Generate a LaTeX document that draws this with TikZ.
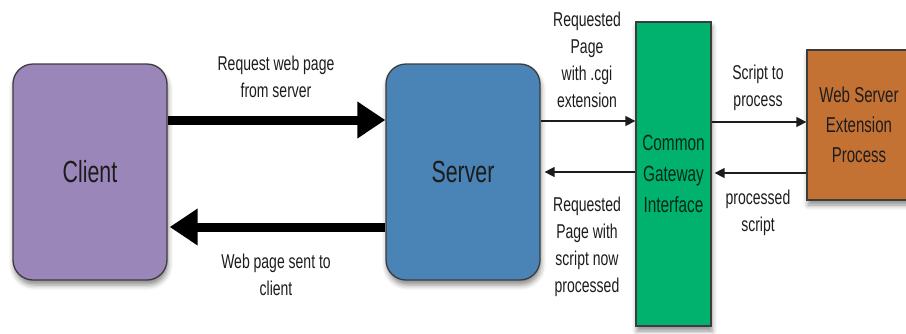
\documentclass[tikz,border=0pt]{standalone}
\usepackage{fontspec}
\newfontfamily\nf[FakeStretch=0.7]{Liberation Sans}
\usetikzlibrary{arrows.meta,shadows.blur}
\definecolor{cpurple}{RGB}{155,134,186}
\definecolor{cblue}{RGB}{74,131,182}
\definecolor{cgreen}{RGB}{0,178,110}
\definecolor{corange}{RGB}{196,114,52}
\definecolor{cborder}{RGB}{60,60,60}
\definecolor{ctext}{RGB}{28,28,28}
\definecolor{cgtext}{RGB}{0,40,24}
\tikzset{
  boxshape/.style={draw=cborder, line width=1.3pt, inner sep=0pt,
    blur shadow={shadow xshift=1pt, shadow yshift=-5pt, shadow blur radius=5pt, shadow opacity=45}},
  bigbox/.style={boxshape, rounded corners=20pt, minimum width=154pt, minimum height=216pt,
    text=ctext, font=\nf\fontsize{30.5}{34}\selectfont},
  lbl/.style={align=center, text=ctext, inner sep=0pt, font=\nf\fontsize{20}{27}\selectfont},
  thick arrow/.style={line width=9pt, -{Triangle[length=28pt,width=35pt]}},
  thin arrow/.style={line width=1.5pt, draw=ctext, -{Triangle[length=10pt,width=10pt]}}
}
\begin{document}
\begin{tikzpicture}[x=1pt,y=-1pt]
\useasboundingbox (0,0) rectangle (906,333);
\node[bigbox, fill=cpurple] (client) at (90,172) {Client};
\node[bigbox, fill=cblue] (server) at (463,172) {Server};
\node[boxshape, fill=cgreen, minimum width=75pt, minimum height=304pt, align=center,
  text=cgtext, font=\nf\fontsize{22}{31}\selectfont] (cgi) at (673.5,174) {Common\\Gateway\\Interface};
\node[boxshape, fill=corange, minimum width=104pt, minimum height=150pt, align=center,
  text=ctext, font=\nf\fontsize{21.5}{30}\selectfont] (wsep) at (859,125) {Web Server\\Extension\\Process};
% thick arrows
\coordinate (a1) at ([yshift=52pt]client.east);
\draw[thick arrow] (a1) -- (a1 -| server.west);
\coordinate (a2) at ([yshift=-55pt]server.west);
\draw[thick arrow] (a2) -- ([xshift=2pt]a2 -| client.east);
% thin arrows
\coordinate (b1) at ([yshift=51pt]server.east);
\draw[thin arrow] (b1) -- (b1 -| cgi.west);
\coordinate (b2) at ([yshift=2pt]cgi.west);
\draw[thin arrow] (b2) -- ([xshift=4pt]b2 -| server.east);
\coordinate (b3) at ([yshift=52pt]cgi.east);
\draw[thin arrow] (b3) -- (b3 -| wsep.west);
\coordinate (b4) at ([yshift=-48pt]wsep.west);
\draw[thin arrow] (b4) -- ([xshift=3pt]b4 -| cgi.east);
% labels
\node[lbl] (l1) at (276,77) {Request web page\\from server};
\node[lbl] (l2) at (276,275) {Web page sent to\\client};
\node[lbl] (l3) at (587,60) {Requested\\Page\\with .cgi\\extension};
\node[lbl] (l4) at (587,247) {Requested\\Page with\\script now\\processed};
\node[lbl] (l5) at (758,88) {Script to\\process};
\node[lbl] (l6) at (758,213) {processed\\script};
\end{tikzpicture}
\end{document}
